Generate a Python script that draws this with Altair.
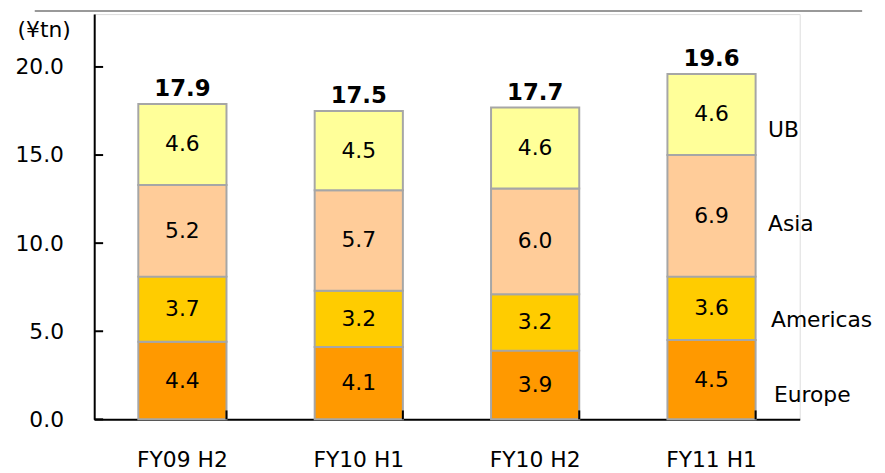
import altair as alt
import pandas as pd

categories = ["FY09 H2", "FY10 H1", "FY10 H2", "FY11 H1"]
regions = ["Europe", "Americas", "Asia", "UB"]
europe = [4.4, 4.1, 3.9, 4.5]
americas = [3.7, 3.2, 3.2, 3.6]
asia = [5.2, 5.7, 6.0, 6.9]
ub = [4.6, 4.5, 4.6, 4.6]
totals = [17.9, 17.5, 17.7, 19.6]
y_ticks = [0, 5, 10, 15, 20]
colors = ["#FF9900", "#FFCC00", "#FFCC99", "#FFFF99"]

FONT = "DejaVu Sans"
FS = 22
W, H = 712, 409

rows = []
for i, c in enumerate(categories):
    base = 0.0
    for k, (r, vals) in enumerate(zip(regions, [europe, americas, asia, ub])):
        v = vals[i]
        rows.append({"cat": c, "region": r, "order": k, "value": v,
                     "y0": base, "y1": base + v, "mid": base + v / 2,
                     "label": f"{v:.1f}"})
        base += v
df = pd.DataFrame(rows)
tot_df = pd.DataFrame({"cat": categories, "total": totals,
                       "label": [f"{t:.1f}" for t in totals]})
tick_df = pd.DataFrame({"t": y_ticks})
cat_df = pd.DataFrame({"cat": categories})

xs = alt.X("cat:N", sort=categories, title=None,
           scale=alt.Scale(paddingInner=0.5, paddingOuter=0.25),
           axis=alt.Axis(labelFont=FONT, labelFontSize=FS, labelColor="#000",
                         labelPadding=31, ticks=False, domainColor="#000",
                         domainWidth=2, labelAngle=0))
ys = alt.Y("y0:Q", title="(¥tn)",
           scale=alt.Scale(domain=[0, 23], nice=False),
           axis=alt.Axis(values=y_ticks, format=".1f", labelFont=FONT,
                         labelFontSize=FS, labelColor="#000", labelPadding=31,
                         ticks=False, grid=False, domainColor="#000",
                         domainWidth=2, titleAngle=0, titleFont=FONT,
                         titleFontSize=FS, titleFontWeight="normal",
                         titleColor="#000", titleX=-51, titleY=16,
                         titleAlign="center", titleBaseline="middle"))

bars = alt.Chart(df).mark_bar(stroke="#A6A6A6", strokeWidth=2).encode(
    x=xs, y=ys, y2="y1:Q",
    color=alt.Color("region:N", scale=alt.Scale(domain=regions, range=colors),
                    legend=None),
)

seg_text = alt.Chart(df).mark_text(font=FONT, fontSize=FS, color="#000",
                                   baseline="middle").encode(
    x=alt.X("cat:N", sort=categories), y=alt.Y("mid:Q"), text="label:N")

tot_text = alt.Chart(tot_df).mark_text(font=FONT, fontSize=23, fontWeight="bold",
                                       color="#000", baseline="bottom", dy=-3).encode(
    x=alt.X("cat:N", sort=categories), y=alt.Y("total:Q"), text="label:N")

last = df[df["cat"] == categories[-1]]
side_dy = {"Europe": 16, "Americas": 12, "Asia": 8, "UB": 16}
side_dx = {"Europe": 63, "Americas": 60, "Asia": 57, "UB": 57}
side_layers = []
for r in regions:
    side_layers.append(
        alt.Chart(last[last["region"] == r]).mark_text(
            font=FONT, fontSize=FS, color="#000", align="left",
            baseline="middle", dx=side_dx[r], dy=side_dy[r]).encode(
            x=alt.X("cat:N", sort=categories), y=alt.Y("mid:Q"),
            text="region:N"))

ytick_rules = alt.Chart(tick_df).mark_rule(color="#000", strokeWidth=2).encode(
    y=alt.Y("t:Q"), x=alt.value(0), x2=alt.value(9))

xtick_rules = alt.Chart(cat_df).mark_rule(color="#000", strokeWidth=2).encode(
    x=alt.X("cat:N", sort=categories, bandPosition=1),
    y=alt.value(H - 9), y2=alt.value(H))

top_line = alt.Chart(cat_df.head(1)).mark_rule(color="#999999", strokeWidth=2).encode(
    x=alt.value(-60), x2=alt.value(775), y=alt.value(-3))

chart = alt.layer(bars, seg_text, tot_text, *side_layers, ytick_rules,
                  xtick_rules, top_line).properties(
    width=W, height=H,
    autosize=alt.AutoSizeParams(type="none"),
    padding={"left": 87, "top": 4, "right": 78, "bottom": 52},
).configure_view(strokeWidth=0, stroke="transparent").configure(background="white")

chart.save("out.html", embed_options={"renderer": "svg", "actions": False})
